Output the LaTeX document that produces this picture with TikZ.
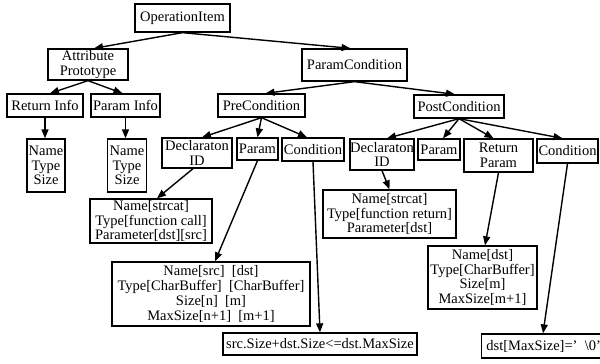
\documentclass[tikz,border=0pt]{standalone}
\usepackage{fontspec}
\setmainfont{Liberation Serif}
\usetikzlibrary{arrows.meta,calc}
\newcommand{\fsz}{\fontsize{14.5}{14.8}\selectfont}
\tikzset{
  box/.style={draw, line width=1.3pt, inner sep=0pt, align=center, font=\fsz},
  arr/.style={-{Triangle[length=9pt,width=7pt]}, line width=1.4pt},
}
\begin{document}
\begin{tikzpicture}[x=1pt,y=-1pt]
\useasboundingbox (0,0) rectangle (600,364);
% level 0-1
\node[box, minimum width=95pt, minimum height=28pt] (op) at (182.5,18) {OperationItem};
\node[box, minimum width=80pt, minimum height=31pt] (attr) at (88,64.5) {Attribute\\Prototype};
\node[box, minimum width=105pt, minimum height=32pt] (pc) at (354.5,65) {ParamCondition};
% level 2
\node[box, minimum width=76pt, minimum height=23pt] (ret) at (45,105.5) {Return Info};
\node[box, minimum width=69pt, minimum height=23pt] (pinfo) at (125.5,105.5) {Param Info};
\node[box, minimum width=87pt, minimum height=23pt] (pre) at (261.5,105.5) {PreCondition};
\node[box, minimum width=90pt, minimum height=23pt] (post) at (459,106.5) {PostCondition};
% level 3
\node[box, minimum width=38pt, minimum height=53pt] (nts1) at (46,165.5) {Name\\Type\\Size};
\node[box, minimum width=39pt, minimum height=53pt] (nts2) at (127,165.5) {Name\\Type\\Size};
\node[box, minimum width=70pt, minimum height=30pt] (dl) at (197,153) {Declaraton\\ID};
\node[box, minimum width=41pt, minimum height=22pt] (pp) at (257.5,149) {Param};
\node[box, minimum width=62pt, minimum height=23pt] (cl) at (313,149.5) {Condition};
\node[box, minimum width=64pt, minimum height=31pt] (dr) at (382,154.5) {Declaraton\\ID};
\node[box, minimum width=42pt, minimum height=21pt] (pq) at (439,149.5) {Param};
\node[box, minimum width=69pt, minimum height=33pt] (rp) at (498.5,155.5) {Return\\Param};
\node[box, minimum width=61pt, minimum height=24pt] (cr) at (567.5,151) {Condition};
% level 4
\node[box, minimum width=122pt, minimum height=44pt] (sc) at (151,221) {Name[strcat]\\Type[function call]\\Parameter[dst][src]};
\node[box, minimum width=133pt, minimum height=48pt] (sr) at (389.5,214) {Name[strcat]\\Type[function return]\\Parameter[dst]};
\node[box, minimum width=198pt, minimum height=64pt] (big) at (211,294) {Name[src]\ \ [dst]\\Type[CharBuffer]\ \ [CharBuffer]\\Size[n]\ \ [m]\\MaxSize[n+1]\ \ [m+1]};
\node[box, minimum width=109pt, minimum height=63pt] (nd) at (482.5,277.5) {Name[dst]\\Type[CharBuffer]\\Size[m]\\MaxSize[m+1]};
\node[box, minimum width=194pt, minimum height=22pt] (srcb) at (320,344) {src.Size+dst.Size<=dst.MaxSize};
\node[box, anchor=west, inner xsep=3pt, minimum height=24pt, minimum width=124pt] (db) at (481,346) {dst[MaxSize]=’\ \ \textbackslash0’\hfill};
% connectors
\draw[arr] (op.south) -- ($(attr.north)+(6,0)$);
\draw[arr] (op.south) -- ($(pc.north)+(-4,0)$);
\draw[arr] (attr.south) -- ($(ret.north)+(5,0)$);
\draw[arr] (attr.south) -- ($(pinfo.north)+(-3,0)$);
\draw[arr] (pc.south) -- ($(pre.north)+(4,0)$);
\draw[arr] (pc.south) -- ($(post.north)+(-4,0)$);
\draw[arr] (ret.south) -- (ret.south |- nts1.north);
\draw[arr] (pinfo.south) -- (pinfo.south |- nts2.north);
\draw[arr] (pre.south) -- ($(dl.north)+(5,0)$);
\draw[arr] (pre.south) -- (pp.north);
\draw[arr] (pre.south) -- ($(cl.north)+(-6,0)$);
\draw[arr] (post.south) -- ($(dr.north)+(5,0)$);
\draw[arr] (post.south) -- ($(pq.north)+(4,0)$);
\draw[arr] (post.south) -- ($(rp.north)+(-5,0)$);
\draw[arr] (post.south) -- ($(cr.north)+(-5,0)$);
\draw[arr] ($(dl.south)+(-4,0)$) -- ($(sc.north)+(6,0)$);
\draw[arr] (pp.south) -- ($(big.north)+(4,0)$);
\draw[arr] (cl.south) -- (srcb.north);
\draw[arr] (dr.south) -- (sr.north);
\draw[arr] (rp.south) -- ($(nd.north)+(2.5,0)$);
\draw[arr] (cr.south) -- ($(db.north west)+(62,0)$);
\end{tikzpicture}
\end{document}
